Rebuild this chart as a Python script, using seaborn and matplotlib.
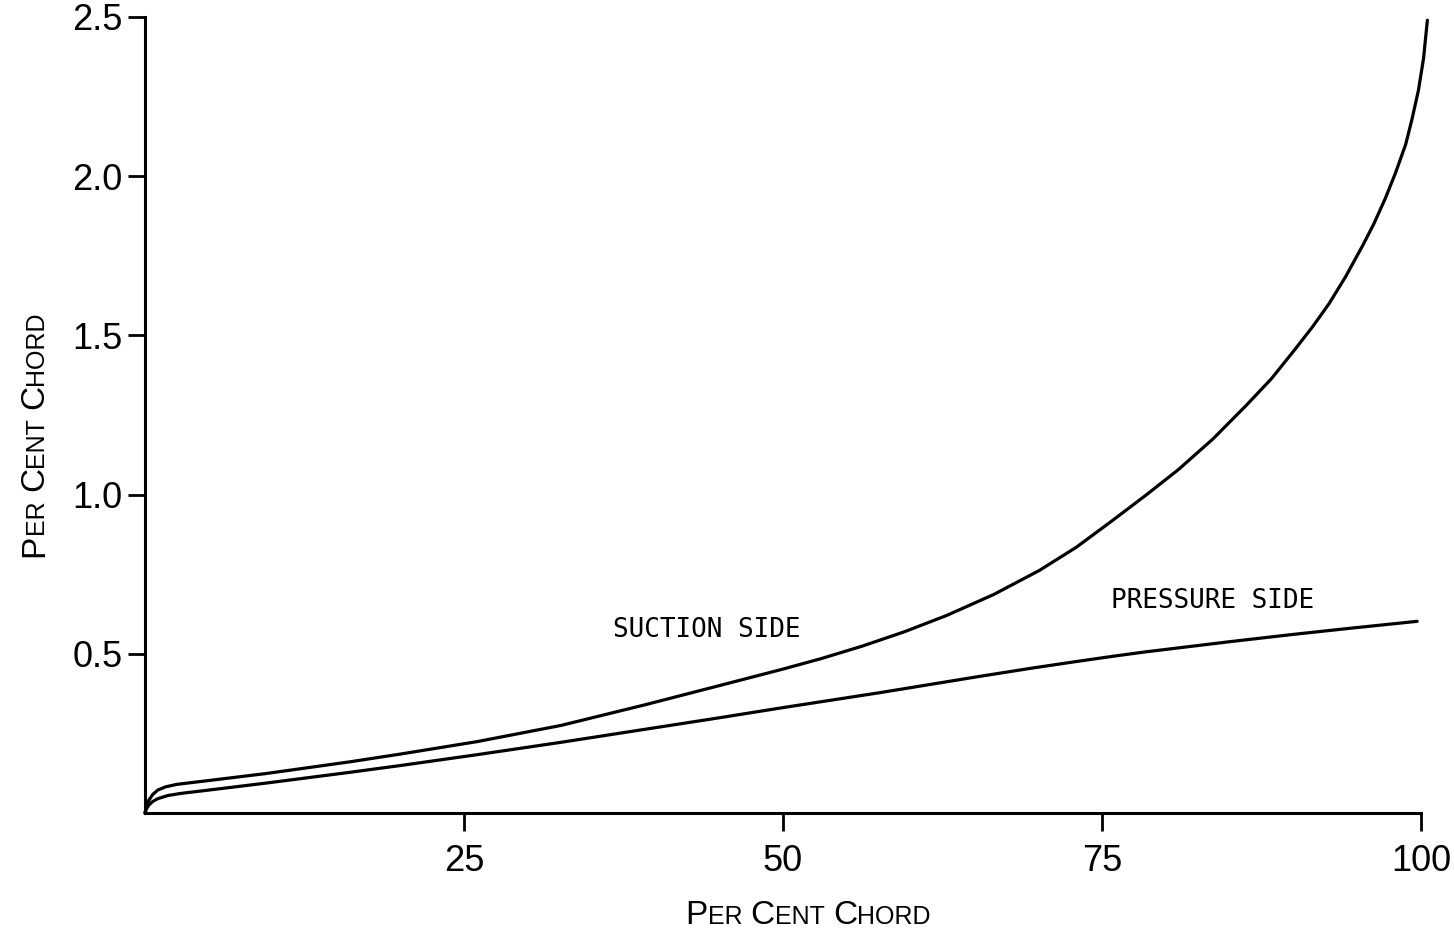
import matplotlib
matplotlib.use("Agg")
import matplotlib.pyplot as plt
import pandas as pd
import seaborn as sns

# Thickness distribution along the chord (both sides of the blade)
chord_suction = [0, 0.1, 0.3, 0.6, 1.0, 1.6, 2.5, 5, 9.5, 16.1, 20, 26, 32.6,
                 39.2, 45, 50, 53, 56.2, 59.5, 62.8, 66.5, 70.1, 73, 75.8, 78.5,
                 81, 83.7, 86.3, 88.3, 90.2, 91.5, 92.8, 94.1, 95.4, 96.3,
                 97.2, 98.0, 98.8, 99.3, 99.8, 100.2, 100.5]
thick_suction = [0.0, 0.02, 0.04, 0.058, 0.072, 0.082, 0.09, 0.102, 0.124,
                 0.161, 0.185, 0.224, 0.275, 0.34, 0.40, 0.452, 0.485, 0.524,
                 0.569, 0.620, 0.686, 0.762, 0.835, 0.918, 1.00, 1.079, 1.175,
                 1.28, 1.365, 1.46, 1.527, 1.60, 1.685, 1.78, 1.85, 1.93, 2.01,
                 2.10, 2.18, 2.27, 2.37, 2.49]

chord_pressure = [0, 0.1, 0.3, 0.6, 1.0, 1.8, 2.9, 5, 9.5, 16.1, 20, 26, 32.6,
                  39.2, 45, 50, 57.6, 65.4, 69.5, 73.2, 76, 78.4, 85, 90, 94.4,
                  99.7]
thick_pressure = [0.0, 0.012, 0.025, 0.036, 0.045, 0.055, 0.062, 0.072, 0.094,
                  0.128, 0.149, 0.183, 0.222, 0.263, 0.299, 0.331, 0.378,
                  0.429, 0.455, 0.477, 0.493, 0.506, 0.538, 0.561, 0.58, 0.602]

x_ticks = [25, 50, 75, 100]
y_ticks = [0.5, 1.0, 1.5, 2.0, 2.5]
y_tick_labels = ["0.5", "1.0", "1.5", "2.0", "2.5"]

# Axis title written in small capitals: (text, relative size); None = word gap
axis_title = [("P", 1.0), ("ER", 0.75), (None, 1.0), ("C", 1.0), ("ENT", 0.75),
              (None, 1.0), ("C", 1.0), ("HORD", 0.75)]
curve_labels = {"suction": ("SUCTION SIDE", 36.7, 0.553),
                "pressure": ("PRESSURE SIDE", 75.7, 0.645)}

sns.set_theme(style="ticks")
plt.rcParams["font.family"] = ["Liberation Sans", "DejaVu Sans"]

W, H = 1454, 935
fig = plt.figure(figsize=(W / 100, H / 100), dpi=100)
fig.patch.set_facecolor("white")
ax = fig.add_axes([145 / W, 1 - 813 / H, (1421 - 145) / W, (813 - 17) / H])

df = pd.concat([
    pd.DataFrame({"chord": chord_suction, "thickness": thick_suction, "side": "suction"}),
    pd.DataFrame({"chord": chord_pressure, "thickness": thick_pressure, "side": "pressure"}),
], ignore_index=True)

sns.lineplot(data=df, x="chord", y="thickness", hue="side",
             palette={"suction": "black", "pressure": "black"},
             estimator=None, sort=False, legend=False, linewidth=2.3, ax=ax)
for ln in ax.lines:
    ln.set_clip_on(False)
    ln.set_solid_joinstyle("round")

ax.set_xlim(0, 100)
ax.set_ylim(0, 2.5)
ax.set_xticks(x_ticks, labels=[str(v) for v in x_ticks])
ax.set_yticks(y_ticks, labels=y_tick_labels)
ax.set_xlabel("")
ax.set_ylabel("")
sns.despine(ax=ax)
for side in ("left", "bottom"):
    ax.spines[side].set_linewidth(2.2)
    ax.spines[side].set_color("black")
ax.tick_params(axis="both", colors="black", width=2.0, labelsize=26,
               direction="out")
ax.tick_params(axis="y", length=12, pad=4)
ax.tick_params(axis="x", length=13, pad=9)
ax.set_facecolor("white")

for key, (text, xv, yv) in curve_labels.items():
    ax.text(xv, yv, text, family="DejaVu Sans Mono", fontsize=18.7,
            color="black", va="baseline", ha="left")


def small_caps(pieces, center, base, size, rotation):
    """Lay out a small-caps title piece by piece, centred on `center` (px)."""
    renderer = fig.canvas.get_renderer()
    items = []
    total = 0.0
    for text, scale in pieces:
        if text is None:
            adv = 0.25 * size * scale * 100 / 72
            items.append((None, adv))
        else:
            t = fig.text(0, 0, text, fontsize=size * scale,
                         rotation=rotation, rotation_mode="anchor",
                         ha="left", va="baseline", color="black")
            bb = t.get_window_extent(renderer)
            adv = bb.height if rotation else bb.width
            items.append((t, adv))
        total += adv
    pos = center - total / 2
    for t, adv in items:
        if t is not None:
            if rotation:
                t.set_position((base / W, pos / H))
            else:
                t.set_position((pos / W, base / H))
        pos += adv


# x title: centred at x=808 px, baseline 11 px above the bottom edge
small_caps(axis_title, 808, H - 924, 24, 0)
# y title: centred at 434 px from the top, baseline at x=43 px
small_caps(axis_title, H - 434, 43, 24, 90)

fig.savefig("out.png", dpi=100, facecolor="white")
